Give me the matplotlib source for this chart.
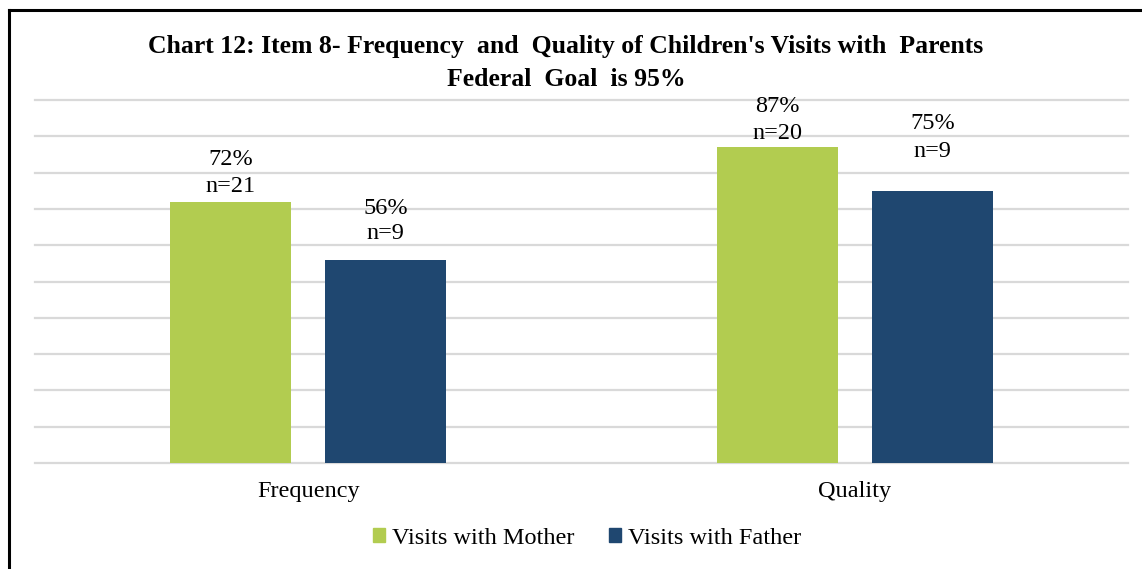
import numpy as np
import matplotlib.pyplot as plt
from matplotlib.lines import Line2D
from matplotlib.patches import Patch

# data
categories = ['Frequency', 'Quality']
series_names = ['Visits with Mother', 'Visits with Father']
mother_pct = [72, 87]
father_pct = [56, 75]
mother_n = [21, 20]
father_n = [9, 9]

# label offsets above bar top (pixels) for the n= line and % line
label_gap_mother = [(15, 42), (14, 41)]
label_gap_father = [(26, 51), (39, 67)]

GREEN = '#b2cc50'
BLUE = '#1f4770'
FS = 17.5

plt.rcParams['font.family'] = ['Liberation Serif', 'DejaVu Serif']

fig = plt.figure(figsize=(11.42, 5.69), dpi=100)
ax = fig.add_axes([35 / 1142, 1 - 463 / 569, (1128 - 35) / 1142, (463 - 100) / 569])

x = np.arange(len(categories))
w = 0.221
off = 0.142
b1 = ax.bar(x - off, mother_pct, w, color=GREEN, zorder=3)
b2 = ax.bar(x + off, father_pct, w, color=BLUE, zorder=3)

px = 0.72  # points per pixel at 100 dpi
for bars, vals, ns, gaps in [(b1, mother_pct, mother_n, label_gap_mother),
                             (b2, father_pct, father_n, label_gap_father)]:
    for bar, v, n, (g_n, g_p) in zip(bars, vals, ns, gaps):
        cx = bar.get_x() + bar.get_width() / 2
        ax.annotate(f'n={n}', (cx, v), xytext=(0, g_n * px), textcoords='offset points',
                    ha='center', va='center', fontsize=FS)
        ax.annotate(f'{v}%', (cx, v), xytext=(0, g_p * px), textcoords='offset points',
                    ha='center', va='center', fontsize=FS)

ax.set_xlim(-0.5, 1.5)
ax.set_ylim(0, 100)
ax.set_yticks(np.arange(0, 101, 10))
ax.set_yticklabels([])
ax.tick_params(axis='y', length=0)
ax.tick_params(axis='x', length=0, pad=13, labelsize=FS)
ax.set_xticks(x)
ax.set_xticklabels(categories)
ax.grid(axis='y', color='#d9d9d9', linewidth=1.6, zorder=0)
for gl in ax.get_ygridlines():
    gl.set_clip_on(False)
for s in ax.spines.values():
    s.set_visible(False)

fig.text(566 / 1142, 1 - 47 / 569,
         "Chart 12: Item 8- Frequency  and  Quality of Children's Visits with  Parents",
         ha='center', va='center', fontsize=18.5, fontweight='bold')
fig.text(566 / 1142, 1 - 79 / 569, 'Federal  Goal  is 95%',
         ha='center', va='center', fontsize=18.5, fontweight='bold')

handles = [Patch(color=GREEN), Patch(color=BLUE)]
fig.legend(handles, series_names, loc='center', bbox_to_anchor=(587 / 1142, 1 - 538 / 569),
           ncol=2, frameon=False, fontsize=FS, handlelength=0.5, handleheight=0.5,
           handletextpad=0.3, columnspacing=1.4)

# outer frame (left and top edges only visible)
fig.add_artist(Line2D([8.5 / 1142, 8.5 / 1142], [0, 1 - 9.5 / 569], color='black', lw=2.2,
                      transform=fig.transFigure))
fig.add_artist(Line2D([8.5 / 1142, 1], [1 - 9.5 / 569, 1 - 9.5 / 569], color='black', lw=2.2,
                      transform=fig.transFigure))

fig.savefig('out.png', dpi=100)
